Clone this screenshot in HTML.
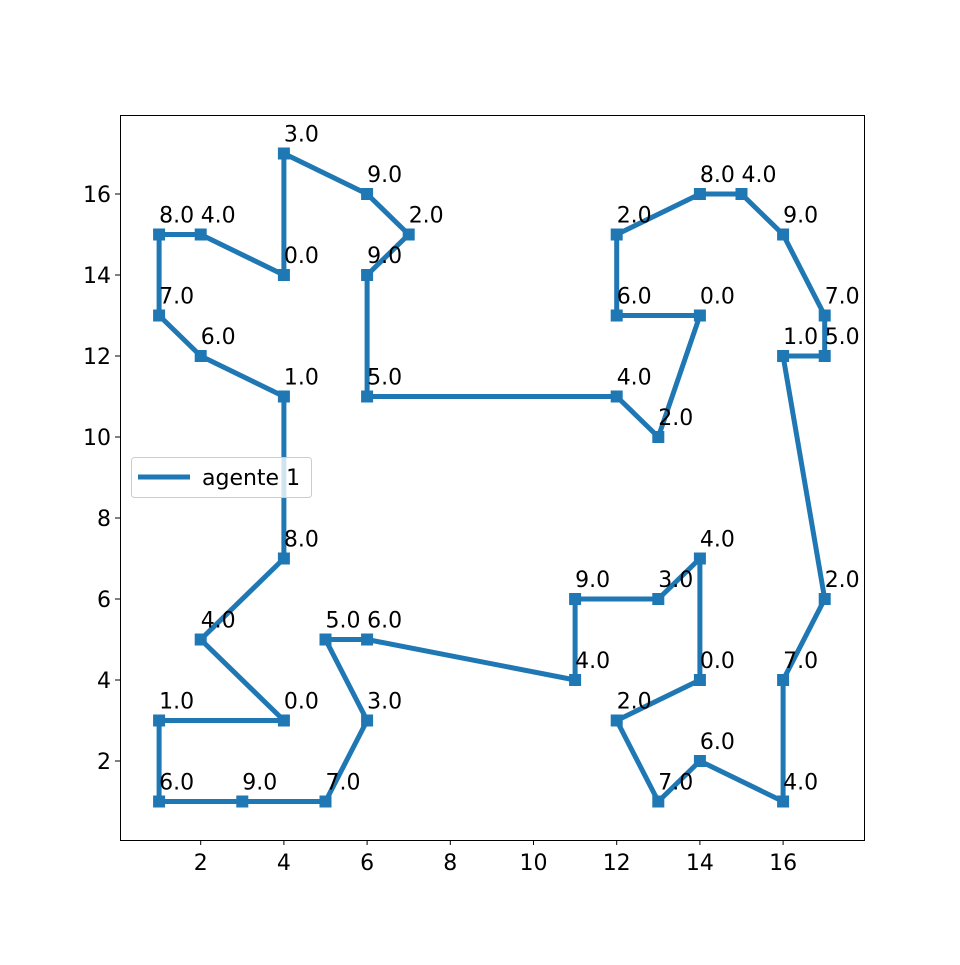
<!DOCTYPE html>
<html><head><meta charset="utf-8"><style>
body{margin:0;background:#fff}
svg text{font-family:"DejaVu Sans","Liberation Sans",sans-serif;font-size:22px;fill:#000}
</style></head><body>
<svg id="chart" width="960" height="960" xmlns="http://www.w3.org/2000/svg">
<rect width="960" height="960" fill="#fff"/>
<g id="plot"></g>
</svg>
<script>
const xs=[4,1,1,3,5,6,5,6,11,11,13,14,14,12,13,14,16,16,17,16,17,17,16,15,14,12,12,14,13,12,6,6,7,6,4,4,2,1,1,2,4,4,2];
const ys=[3,3,1,1,1,3,5,5,4,6,6,7,4,3,1,2,1,4,6,12,12,13,15,16,16,15,13,13,10,11,11,14,15,16,17,14,15,15,13,12,11,7,5];
const labels=["0.0","1.0","6.0","9.0","7.0","3.0","5.0","6.0","4.0","9.0","3.0","4.0","0.0","2.0","7.0","6.0","4.0","7.0","2.0","1.0","5.0","7.0","9.0","4.0","8.0","2.0","6.0","0.0","2.0","4.0","5.0","9.0","2.0","9.0","3.0","0.0","4.0","8.0","7.0","6.0","1.0","8.0","4.0"];
const xTicks=[2,4,6,8,10,12,14,16];
const yTicks=[2,4,6,8,10,12,14,16];
const X=v=>117.5+41.6*v, Y=v=>842-40.5*v;
const NS="http://www.w3.org/2000/svg";
const g=document.getElementById('plot');
function mk(t,a){const e=document.createElementNS(NS,t);for(const k in a)e.setAttribute(k,a[k]);g.appendChild(e);return e;}
let fr=mk('rect',{x:120.5,y:115.5,width:744,height:725,fill:'none',stroke:'#000','stroke-width':1});


xTicks.forEach(v=>{
 let l=mk('line',{x1:X(v),x2:X(v),y1:840,y2:845,stroke:'#000'});
 
 
 let t=mk('text',{x:X(v),y:870,'text-anchor':'middle'});t.textContent=v;
 
 
});
yTicks.forEach(v=>{
 let l=mk('line',{x1:115,x2:120,y1:Y(v),y2:Y(v),stroke:'#000'});
 
 
 let t=mk('text',{x:111,y:Y(v)+8,'text-anchor':'end'});t.textContent=v;
 
 
});
let pts=xs.map((x,i)=>X(x)+','+Y(ys[i]));pts.push(pts[0]);
let pl=mk('polyline',{points:pts.join(' '),fill:'none',stroke:'#1f77b4','stroke-width':5,'stroke-linejoin':'round'});


xs.forEach((x,i)=>{
 let r=mk('rect',{x:X(x)-6,y:Y(ys[i])-6,width:12,height:12,fill:'#1f77b4'});
 
 
 let t=mk('text',{x:X(x),y:Y(ys[i])-12});t.textContent=labels[i];
 
 
});
let lb=mk('rect',{x:131.5,y:457.5,width:180,height:40,rx:3,fill:'#fff','fill-opacity':0.8,stroke:'#ccc'});


let ll=mk('line',{x1:138,x2:190,y1:477,y2:477,stroke:'#1f77b4','stroke-width':5});


let lt=mk('text',{x:202,y:485});lt.textContent='agente 1';


</script>
</body></html>
